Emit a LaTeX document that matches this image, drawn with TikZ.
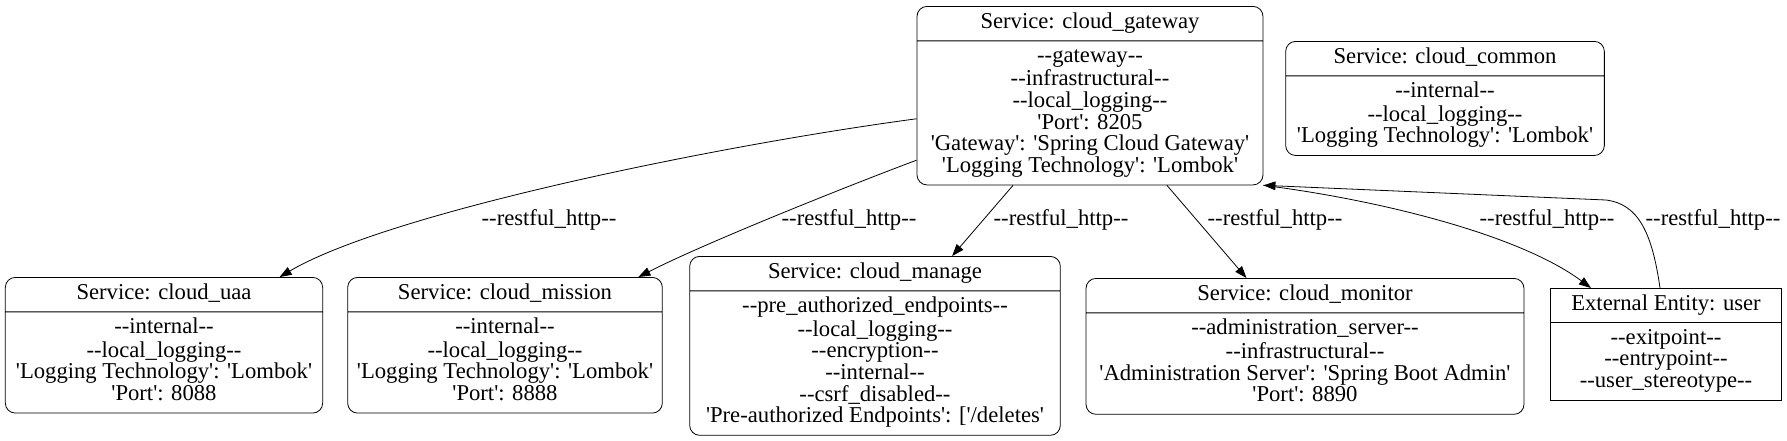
\documentclass[tikz,border=0pt]{standalone}
\usepackage{fontspec}
\setmainfont{Liberation Serif}[Ligatures=TeXOff]
\usetikzlibrary{shapes.multipart}
\usetikzlibrary{arrows.meta}

\begin{document}
\begin{tikzpicture}[x=0.75pt, y=-0.75pt, font=\fontsize{17}{16.2}\selectfont,
    svc/.style={draw, rectangle split, rectangle split parts=2, rounded corners=7.5pt, align=center, anchor=north, inner xsep=4pt, inner ysep=4.3pt, line width=0.6pt},
    ext/.style={svc, sharp corners},
    flow/.style={-{Triangle[length=9pt, width=6.5pt]}, line width=0.6pt},
    lbl/.style={inner sep=0pt}]
    \useasboundingbox (0, 0) rectangle (1787, 440);
    \node[svc, minimum width=259.5pt](gw) at (1090, 6){\strut Service: cloud\_gateway\nodepart{two}\strut--gateway--\\--infrastructural--\\--local\_logging--\\'Port': 8205\\'Gateway': 'Spring Cloud Gateway'\\'Logging Technology': 'Lombok'\strut};
    \node[svc, minimum width=239pt](cmn) at (1445, 41){\strut Service: cloud\_common\nodepart{two}\strut--internal--\\--local\_logging--\\'Logging Technology': 'Lombok'\strut};
    \node[svc, minimum width=238pt](uaa) at (164, 277){\strut Service: cloud\_uaa\nodepart{two}\strut--internal--\\--local\_logging--\\'Logging Technology': 'Lombok'\\'Port': 8088\strut};
    \node[svc, minimum width=236pt](mis) at (505, 277){\strut Service: cloud\_mission\nodepart{two}\strut--internal--\\--local\_logging--\\'Logging Technology': 'Lombok'\\'Port': 8888\strut};
    \node[svc, minimum width=278pt](mng) at (875, 256){\strut Service: cloud\_manage\nodepart{two}\strut--pre\_authorized\_endpoints--\\--local\_logging--\\--encryption--\\--internal--\\--csrf\_disabled--\\'Pre-authorized Endpoints': ['/deletes'\strut};
    \node[svc, minimum width=328.5pt](mon) at (1305, 278){\strut Service: cloud\_monitor\nodepart{two}\strut--administration\_server--\\--infrastructural--\\'Administration Server': 'Spring Boot Admin'\\'Port': 8890\strut};
    \node[ext, minimum width=173pt](usr) at (1666, 288){\strut External Entity: user\nodepart{two}\strut--exitpoint--\\--entrypoint--\\--user\_stereotype--\strut};
    \draw[flow](gw) .. controls (720, 145) and (390, 212) .. (uaa);
    \draw[flow](gw) .. controls (850, 185) and (705, 243) .. (mis);
    \draw[flow](gw) -- (mng);
    \draw[flow](gw) -- (mon);
    \draw[flow](gw.south east) .. controls (1380, 200) and (1520, 235) .. (usr);
    \draw[flow]([xshift=-4.5pt]usr.north) .. controls (1652, 232) and (1638, 204) .. (1606, 200) -- (gw.south east);
    \node[lbl](l1) at (549, 220){--restful\_http--};
    \node[lbl](l2) at (849, 220){--restful\_http--};
    \node[lbl](l3) at (1061, 220){--restful\_http--};
    \node[lbl](l4) at (1275, 220){--restful\_http--};
    \node[lbl](l5) at (1547, 220){--restful\_http--};
    \node[lbl](l6) at (1713, 220){--restful\_http--};
\end{tikzpicture}
\end{document}
